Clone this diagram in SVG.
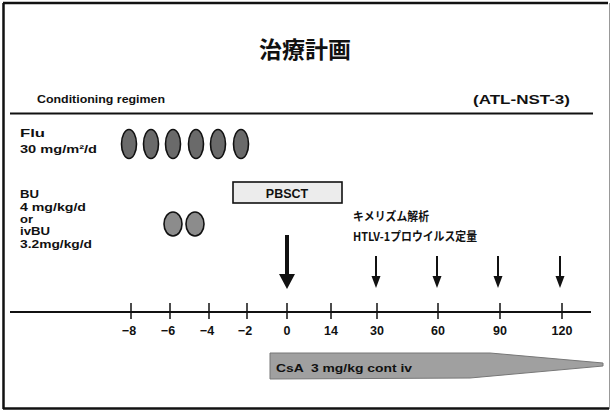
<svg xmlns="http://www.w3.org/2000/svg" width="611" height="412" viewBox="0 0 611 412">
<style>
.t{font-family:"Liberation Sans","Noto Sans CJK JP",Arial,sans-serif;font-weight:bold;fill:#111}
.s{font-size:11.5px}
.n{font-size:12.5px;text-anchor:middle}
.j{font-family:"Noto Sans CJK JP","Liberation Sans",sans-serif;font-weight:bold;fill:#111}
.flu{fill:#6a6a6a;stroke:#111;stroke-width:1.6}
.bu{fill:#8c8c8c;stroke:#111;stroke-width:1.6}
.tick{stroke:#111;stroke-width:1.5}
.frame{stroke:#111;stroke-width:2.5}
</style>
<g id="frame">
<line class="frame" x1="3" y1="3" x2="608" y2="3"/>
<line class="frame" x1="3.5" y1="3" x2="3.5" y2="409"/>
<line class="frame" x1="3" y1="408.5" x2="609" y2="408.5"/>
<line x1="609.5" y1="3" x2="609.5" y2="409" stroke="#999" stroke-width="1"/>
</g>
<text class="j" x="305" y="58" font-size="23" text-anchor="middle">治療計画</text>
<text class="t" x="37" y="103" font-size="11.5" textLength="128" lengthAdjust="spacingAndGlyphs">Conditioning regimen</text>
<text class="t" x="473" y="104" font-size="13" textLength="97" lengthAdjust="spacingAndGlyphs">(ATL-NST-3)</text>
<line x1="10" y1="113.5" x2="593" y2="113.5" stroke="#111" stroke-width="2"/>
<g id="flu-label">
<text class="t s" x="20" y="137" textLength="25" lengthAdjust="spacingAndGlyphs">Flu</text>
<text class="t s" x="20" y="153" textLength="77" lengthAdjust="spacingAndGlyphs">30 mg/m²/d</text>
</g>
<g id="bu-label">
<text class="t s" x="20" y="198" textLength="19" lengthAdjust="spacingAndGlyphs">BU</text>
<text class="t s" x="20" y="211" textLength="66" lengthAdjust="spacingAndGlyphs">4 mg/kg/d</text>
<text class="t s" x="20" y="223" textLength="13" lengthAdjust="spacingAndGlyphs">or</text>
<text class="t s" x="20" y="235" textLength="30" lengthAdjust="spacingAndGlyphs">ivBU</text>
<text class="t s" x="20" y="248" textLength="72" lengthAdjust="spacingAndGlyphs">3.2mg/kg/d</text>
</g>
<g id="flu-doses">
<ellipse class="flu" cx="129" cy="144" rx="7.5" ry="14.5"/>
<ellipse class="flu" cx="151" cy="144" rx="7.5" ry="14.5"/>
<ellipse class="flu" cx="173" cy="144" rx="7.5" ry="14.5"/>
<ellipse class="flu" cx="196" cy="144" rx="7.5" ry="14.5"/>
<ellipse class="flu" cx="218" cy="144" rx="7.5" ry="14.5"/>
<ellipse class="flu" cx="241" cy="144" rx="7.5" ry="14.5"/>
</g>
<g id="bu-doses">
<ellipse class="bu" cx="173" cy="224" rx="9" ry="12"/>
<ellipse class="bu" cx="195" cy="224" rx="9" ry="12"/>
</g>
<g id="pbsct">
<rect x="233" y="182" width="109" height="21" fill="#ececec" stroke="#111" stroke-width="1.6"/>
<text class="t" x="287" y="197.5" font-size="12.5" text-anchor="middle">PBSCT</text>
</g>
<g id="analysis-label">
<text class="j" x="353" y="221" font-size="12" textLength="76" lengthAdjust="spacingAndGlyphs">キメリズム解析</text>
<text class="j" x="353" y="241" font-size="12" textLength="124" lengthAdjust="spacingAndGlyphs">HTLV-1プロウイルス定量</text>
</g>
<g id="connectors">
<line x1="287" y1="235" x2="287" y2="276" stroke="#111" stroke-width="4"/>
<path d="M279,274 L295,274 L287,289 Z" fill="#111"/>
<g stroke="#111" stroke-width="2">
<line x1="376" y1="256" x2="376" y2="278"/>
<line x1="437" y1="256" x2="437" y2="278"/>
<line x1="498" y1="256" x2="498" y2="278"/>
<line x1="560" y1="256" x2="560" y2="278"/>
</g>
<g fill="#111">
<path d="M371.5,276 L380.5,276 L376,288 Z"/>
<path d="M432.5,276 L441.5,276 L437,288 Z"/>
<path d="M493.5,276 L502.5,276 L498,288 Z"/>
<path d="M555.5,276 L564.5,276 L560,288 Z"/>
</g>
</g>
<g id="timeline">
<line x1="10" y1="312" x2="591" y2="312" stroke="#111" stroke-width="2"/>
<g class="tick">
<line x1="131" y1="303" x2="131" y2="319"/>
<line x1="170" y1="303" x2="170" y2="319"/>
<line x1="209" y1="303" x2="209" y2="319"/>
<line x1="247" y1="303" x2="247" y2="319"/>
<line x1="287" y1="303" x2="287" y2="319"/>
<line x1="331" y1="303" x2="331" y2="319"/>
<line x1="377" y1="303" x2="377" y2="319"/>
<line x1="438" y1="303" x2="438" y2="319"/>
<line x1="500" y1="303" x2="500" y2="319"/>
<line x1="562" y1="303" x2="562" y2="319"/>
</g>
<text class="t n" x="129" y="335">−8</text>
<text class="t n" x="168" y="335">−6</text>
<text class="t n" x="207" y="335">−4</text>
<text class="t n" x="245" y="335">−2</text>
<text class="t n" x="287" y="335">0</text>
<text class="t n" x="331" y="335">14</text>
<text class="t n" x="377" y="335">30</text>
<text class="t n" x="438" y="335">60</text>
<text class="t n" x="500" y="335">90</text>
<text class="t n" x="562" y="335">120</text>
</g>
<g id="csa">
<path d="M270,353 L490,353 L603,363 L603,366 L470,378 L270,379 Z" fill="#a0a0a0" stroke="#777" stroke-width="1"/>
<text class="t" x="276" y="372" font-size="11" textLength="136" lengthAdjust="spacingAndGlyphs" xml:space="preserve">CsA  3 mg/kg cont iv</text>
</g>
</svg>
